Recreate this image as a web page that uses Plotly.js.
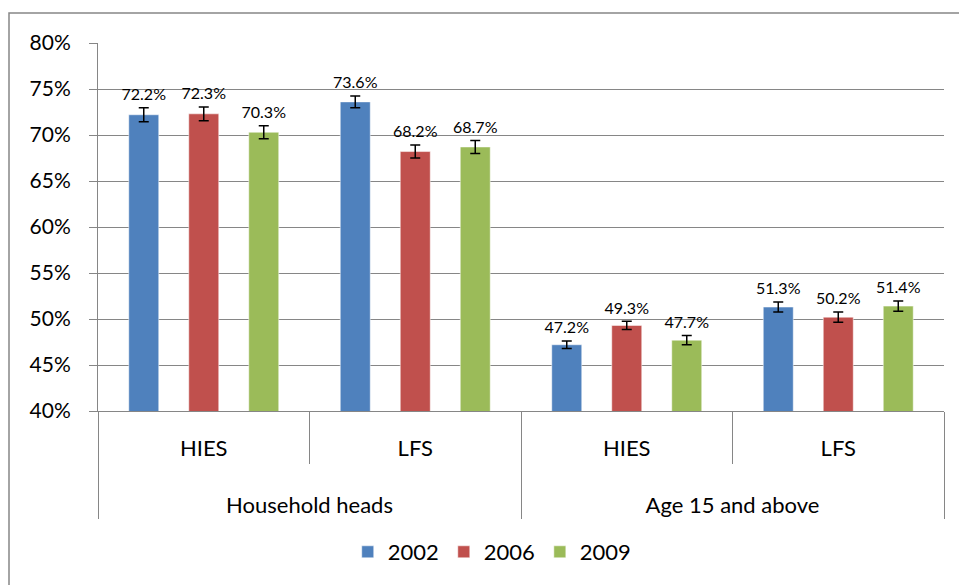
<!DOCTYPE html>
<html>
<head>
<meta charset="utf-8">
<script src="https://cdn.plot.ly/plotly-3.0.1.min.js"></script>
<style>html,body{margin:0;padding:0;background:#fff;}#chart{width:959px;height:585px;}</style>
</head>
<body>
<div id="chart"></div>
<script>
const groups = ['Household heads', 'Household heads', 'Age 15 and above', 'Age 15 and above'];
const sources = ['HIES', 'LFS', 'HIES', 'LFS'];
const seriesNames = ['2002', '2006', '2009'];
const v2002 = [72.2, 73.6, 47.2, 51.3];
const v2006 = [72.3, 68.2, 49.3, 50.2];
const v2009 = [70.3, 68.7, 47.7, 51.4];
const e2002 = [0.75, 0.65, 0.4, 0.55];
const e2006 = [0.75, 0.7, 0.45, 0.55];
const e2009 = [0.7, 0.7, 0.5, 0.55];
const colors = ['#4F81BD', '#C0504D', '#9BBB59'];
const FONT = 'Lato, "Open Sans", sans-serif';
const LABEL_PAD = 0.4;

// inner labels get padding lines so the outer level sits lower, as in the original
const sourceLabels = sources.map(s => s + '<br> <br><sup> </sup>');
const xCats = [groups, sourceLabels];

const vals = [v2002, v2006, v2009];
const errs = [e2002, e2006, e2009];
const traces = [];
vals.forEach((v, i) => {
  traces.push({
    type: 'bar', name: seriesNames[i], x: xCats, y: v,
    offsetgroup: String(i),
    marker: {color: colors[i], line: {color: 'rgba(255,255,255,0.5)', width: 1}},
    error_y: {type: 'data', array: errs[i], visible: true, color: '#000', thickness: 1.5, width: 5},
    hoverinfo: 'skip'
  });
});
vals.forEach((v, i) => {
  traces.push({
    type: 'scatter', mode: 'text', x: xCats,
    y: v.map((d, k) => d + errs[i][k] + LABEL_PAD),
    text: v.map(d => d.toFixed(1) + '%'),
    textposition: 'top center',
    textfont: {family: FONT, size: 16, color: '#000'},
    offsetgroup: String(i), showlegend: false, hoverinfo: 'skip'
  });
});

const L = 98, R = 15, T = 43, B = 174, W = 959, H = 585;
const pw = W - L - R, ph = H - T - B;
const px = x => (x - L) / pw;
const py = y => (H - B - y) / ph;

const layout = {
  width: W, height: H,
  margin: {l: L, r: R, t: T, b: B},
  paper_bgcolor: '#fff', plot_bgcolor: '#fff',
  barmode: 'group', bargap: 0.149, bargroupgap: 0.5,
  scattermode: 'group', scattergap: 0.149,
  font: {family: FONT, size: 21, color: '#000'},
  showlegend: true,
  legend: {orientation: 'h', x: 0.466, xanchor: 'center', y: py(552), yanchor: 'middle',
           font: {family: FONT, size: 22}, traceorder: 'normal', itemwidth: 30},
  xaxis: {
    type: 'multicategory', showgrid: false, showline: true, linecolor: '#868686', linewidth: 1,
    ticks: 'outside', ticklen: 52, tickcolor: '#868686', tickwidth: 1,
    ticklabelstandoff: 18,
    showdividers: true, dividercolor: '#868686', dividerwidth: 1,
    tickfont: {family: FONT, size: 22}
  },
  yaxis: {
    range: [40, 80], dtick: 5, ticksuffix: '%', showgrid: true, gridcolor: '#868686', gridwidth: 1,
    showline: true, linecolor: '#868686', linewidth: 1, ticks: 'outside', ticklen: 8, tickcolor: '#868686',
    ticklabelstandoff: 14,
    tickfont: {family: FONT, size: 21}, zeroline: false, fixedrange: true
  },
  shapes: [{
    type: 'path', xref: 'paper', yref: 'paper',
    path: `M ${px(9)} ${py(590)} L ${px(9)} ${py(13)} L ${px(965)} ${py(13)}`,
    line: {color: '#868686', width: 1.5}
  }]
};
Plotly.newPlot('chart', traces, layout, {staticPlot: true});
</script>
</body>
</html>
